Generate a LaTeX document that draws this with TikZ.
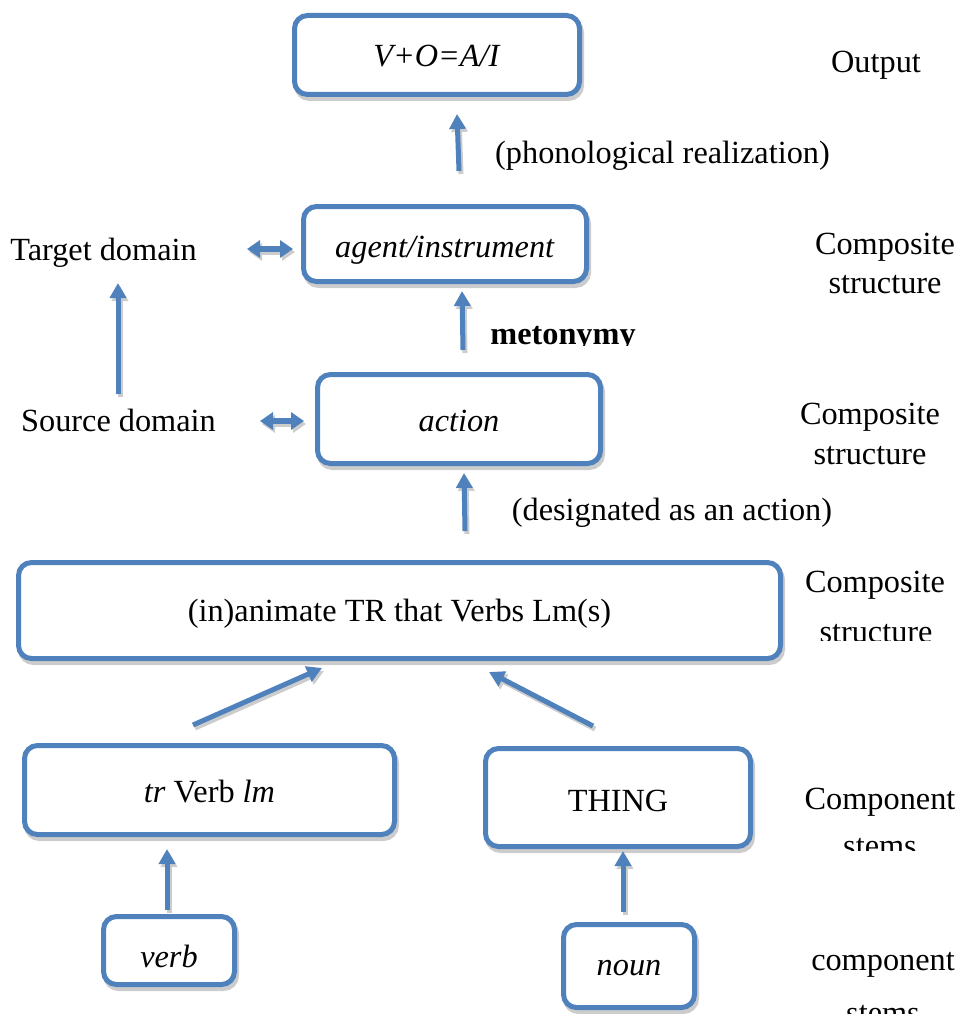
\documentclass[tikz,border=0pt]{standalone}
\usepackage{fontspec}
\setmainfont{Liberation Serif}
\usetikzlibrary{arrows.meta,shadows}
\definecolor{boxblue}{RGB}{79,129,189}
\definecolor{shade}{RGB}{204,204,204}

\begin{document}
\begin{tikzpicture}[x=1pt,y=-1pt,
  every node/.style={font=\fontsize{32.3}{38}\selectfont, inner sep=0pt},
  stage/.style={draw=boxblue, line width=5pt, fill=white, rounded corners=13pt,
    text height=22pt, text depth=0pt,
    general shadow={shadow xshift=2pt, shadow yshift=-4pt, draw=shade, fill=shade, line width=5pt}},
  note/.style={anchor=base},
  flow/.style={draw=boxblue, line width=5pt, -{Triangle[length=15pt,width=16pt]}},
  flowshade/.style={draw=shade, line width=5pt, -{Triangle[length=15pt,width=16pt]},
    transform canvas={shift={(2pt,-3pt)}}},
  bothway/.style={draw=boxblue, line width=6pt,
    {Triangle[length=13pt,width=17pt]}-{Triangle[length=13pt,width=17pt]}},
  bothwayshade/.style={draw=shade, line width=6pt,
    {Triangle[length=13pt,width=17pt]}-{Triangle[length=13pt,width=17pt]},
    transform canvas={shift={(2pt,-3pt)}}},
]
\useasboundingbox (0,0) rectangle (958,1014);
\clip (0,0) rectangle (958,1014);

% stages of the derivation (text height sets where the baseline sits in each box)
\node[stage, minimum width=285pt, minimum height=79pt, text height=24pt] (out) at (437,55) {\textit{V+O=A/I}};
\node[stage, minimum width=283pt, minimum height=75pt, text height=26pt] (agent) at (445,244) {\textit{agent/instrument}};
\node[stage, minimum width=283pt, minimum height=89pt, text height=25pt] (action) at (459,419) {\textit{action}};
\node[stage, minimum width=762pt, minimum height=96pt, text height=21pt] (comp) at (399.5,610.5) {(in)animate TR that Verbs Lm(s)};
\node[stage, minimum width=370pt, minimum height=89pt, text height=24pt] (trv) at (209.5,790) {\textit{tr} Verb \textit{lm}};
\node[stage, minimum width=265pt, minimum height=98pt, text height=27pt] (thing) at (618,797.5) {THING};
\node[stage, minimum width=131pt, minimum height=68pt, text height=33pt] (verb) at (169,950.5) {\textit{verb}};
\node[stage, minimum width=131pt, minimum height=83pt, text height=18pt] (noun) at (629,966) {\textit{noun}};

% side labels
\node[note] (target) at (103.5,260) {Target domain};
\node[note] (source) at (118.5,431) {Source domain};
\node[note] (phon) at (662.5,163) {(phonological realization)};
\node[note] (desig) at (672,520) {(designated as an action)};
\node[note] (outlbl) at (876,73) {Output};
\node[note] (c1a) at (885,254) {Composite};
\node[note] (c1b) at (885,293) {structure};
\node[note] (c2a) at (870,424) {Composite};
\node[note] (c2b) at (870,464) {structure};
\node[note] (c3a) at (875,592) {Composite};
\node[note] (s1a) at (880,809) {Component};
\node[note] (s2a) at (883,970) {component};
\begin{scope}
  \clip (480,300) rectangle (700,345);
  \node[note, font=\fontsize{32.3}{38}\selectfont\bfseries] (meto) at (563,344) {metonymy};
\end{scope}
\begin{scope}
  \clip (780,600) rectangle (958,640);
  \node[note] (c3b) at (876,642) {structure};
\end{scope}
\begin{scope}
  \clip (780,820) rectangle (958,850);
  \node[note] (s1b) at (880,856) {stems};
\end{scope}
\node[note] (s2b) at (883,1023) {stems};

% free ends of the connectors
\coordinate (p1) at (459,171); \coordinate (q1) at (457,114);
\coordinate (p2) at (463,350); \coordinate (q2) at (462,291);
\coordinate (p3) at (465,531); \coordinate (q3) at (464,473);
\coordinate (p4) at (118,394); \coordinate (q4) at (118,283);
\coordinate (p5) at (193,725); \coordinate (q5) at (322,668);
\coordinate (p6) at (593,726); \coordinate (q6) at (489,672);
\coordinate (p7) at (167,910); \coordinate (q7) at (167,849);
\coordinate (p8) at (623,912); \coordinate (q8) at (623,851);
\coordinate (d1) at (247,249); \coordinate (e1) at (293,249);
\coordinate (d2) at (260,421); \coordinate (e2) at (304,421);

\foreach \s/\t in {p1/q1,p2/q2,p3/q3,p4/q4,p5/q5,p6/q6,p7/q7,p8/q8}{
  \draw[flowshade] (\s) -- (\t);
  \draw[flow] (\s) -- (\t);
}
\foreach \s/\t in {d1/e1,d2/e2}{
  \draw[bothwayshade] (\s) -- (\t);
  \draw[bothway] (\s) -- (\t);
}
\end{tikzpicture}
\end{document}
